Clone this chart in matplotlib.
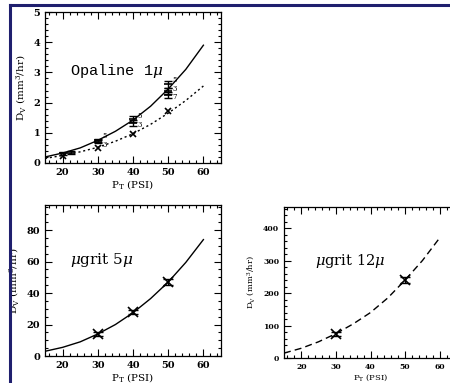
import matplotlib
matplotlib.use("Agg")
import matplotlib.pyplot as plt
from matplotlib.lines import Line2D
from matplotlib.ticker import MultipleLocator

plt.rcParams['font.family'] = ['DejaVu Serif']
plt.rcParams['mathtext.fontset'] = 'dejavuserif'

# ---- data: Opaline 1 micron ----
curve_x = [15, 20, 25, 30, 35, 40, 45, 50, 55, 60]
op_fit_solid = [0.20, 0.33, 0.50, 0.75, 1.05, 1.42, 1.88, 2.45, 3.10, 3.90]
op_fit_dotted = [0.15, 0.25, 0.37, 0.52, 0.72, 0.97, 1.28, 1.65, 2.07, 2.55]
op_pts_x = [20, 22.5, 30, 30, 40, 40, 50, 50, 50]
op_pts_y = [0.32, 0.34, 0.76, 0.70, 1.45, 1.33, 2.60, 2.40, 2.25]
op_pts_err = [0.05, 0.05, 0.05, 0.05, 0.10, 0.10, 0.10, 0.10, 0.10]
op_pt_labels = ['', '', '5', '3', '5', '3', '5', '3', '7']
op_lab_y = [0, 0, 0.90, 0.60, 1.55, 1.27, 2.74, 2.46, 2.18]
op_x_x = [20, 30, 40, 50]
op_x_y = [0.24, 0.50, 0.96, 1.72]

# ---- data: ugrit 5 micron ----
g5_fit = [3.0, 5.5, 9.0, 14.0, 20.0, 27.5, 36.5, 47.0, 59.5, 74.0]
g5_x = [30, 40, 50]
g5_y = [14, 28, 47]
g5_err = [1.0, 1.0, 2.0]

# ---- data: ugrit 12 micron ----
g12_fit = [15, 30, 50, 75, 105, 140, 185, 240, 300, 370]
g12_x = [30, 50]
g12_y = [75, 240]
g12_err = [6, 10]

fig = plt.figure(figsize=(4.5, 3.83), dpi=100)
W, H = 450.0, 383.0

def ax_at(l, r, t, b):
    return fig.add_axes([l / W, 1 - b / H, (r - l) / W, (b - t) / H])

def style(ax, ymaj, ymin, fs, ylab_pad):
    ax.set_xlim(15, 65)
    ax.xaxis.set_major_locator(MultipleLocator(10))
    ax.xaxis.set_minor_locator(MultipleLocator(2))
    ax.yaxis.set_major_locator(MultipleLocator(ymaj))
    ax.yaxis.set_minor_locator(MultipleLocator(ymin))
    ax.tick_params(which='both', direction='in', top=True, right=True,
                   labelsize=fs, width=0.8)
    ax.tick_params(which='major', length=5)
    ax.tick_params(which='minor', length=2.5)
    for lab in ax.get_xticklabels() + ax.get_yticklabels():
        lab.set_fontweight('bold')
    for s in ax.spines.values():
        s.set_linewidth(0.9)
    ax.set_xlabel(r'P$_{\mathrm{T}}$ (PSI)', fontsize=fs + 0.5, labelpad=1)
    ax.set_ylabel(r'D$_{\mathrm{V}}$ (mm$^3$/hr)', fontsize=fs + 0.5, labelpad=ylab_pad)

# Panel 1
ax1 = ax_at(45, 221, 12, 163)
ax1.plot(curve_x, op_fit_solid, color='black', lw=1.0)
ax1.plot(curve_x, op_fit_dotted, color='black', lw=1.0, ls=(0, (1.5, 2)))
ax1.errorbar(op_pts_x, op_pts_y, yerr=op_pts_err, fmt='none', ecolor='black',
             elinewidth=1.0, capsize=3, capthick=1.0)
ax1.plot(op_pts_x, op_pts_y, ls='none', marker='_', ms=6, mew=1.2, color='black')
for x, ly, t in zip(op_pts_x, op_lab_y, op_pt_labels):
    if t:
        ax1.text(x + 1.3, ly, t, fontsize=5, va='center', ha='left')
ax1.plot(op_x_x, op_x_y, ls='none', marker='x', ms=5, mew=1.2, color='black')
ax1.set_ylim(0, 5)
ax1.text(22, 3.05, r'Opaline 1$\mu$', family='Liberation Mono', fontsize=11,
         va='center', ha='left')
style(ax1, 1, 0.2, 7, 4)

# Panel 2
ax2 = ax_at(45, 221, 205, 356)
ax2.plot(curve_x, g5_fit, color='black', lw=1.0)
ax2.errorbar(g5_x, g5_y, yerr=g5_err, fmt='none', ecolor='black',
             elinewidth=1.0, capsize=3.5, capthick=1.0)
ax2.plot(g5_x, g5_y, ls='none', marker='x', ms=7, mew=1.2, color='black')
ax2.set_ylim(0, 96)
ax2.text(22, 61, r'$\mu$grit 5$\mu$', fontsize=11, va='center', ha='left')
style(ax2, 20, 5, 7, 4)

# Panel 3
ax3 = ax_at(284, 457, 207, 358)
ax3.plot(curve_x, g12_fit, color='black', lw=1.0, ls=(0, (5, 3)))
ax3.errorbar(g12_x, g12_y, yerr=g12_err, fmt='none', ecolor='black',
             elinewidth=1.0, capsize=3.5, capthick=1.0)
ax3.plot(g12_x, g12_y, ls='none', marker='x', ms=7, mew=1.2, color='black')
ax3.set_ylim(0, 465)
ax3.text(24, 300, r'$\mu$grit 12$\mu$', fontsize=10.5, va='center', ha='left')
style(ax3, 100, 20, 5.5, 4)

# Slide border lines
fig.add_artist(Line2D([10 / W, 1.0], [1 - 5 / H, 1 - 5 / H], color='#1f1f6e', lw=2.2))
fig.add_artist(Line2D([10 / W, 10 / W], [0, 1 - 5 / H], color='#1f1f6e', lw=2.2))

fig.savefig('out.png', dpi=100)
